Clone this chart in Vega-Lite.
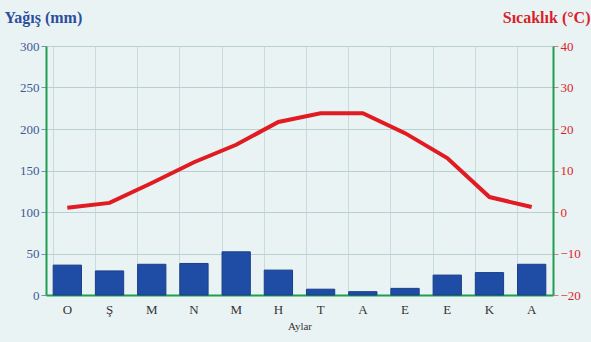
{
  "$schema": "https://vega.github.io/schema/vega-lite/v6.json",
  "width": 507,
  "height": 249,
  "autosize": {"type": "none"},
  "padding": {"left": 46, "top": 46, "right": 38, "bottom": 47},
  "background": "#eaf3f3",
  "config": {
    "font": "Liberation Serif",
    "view": {"stroke": null}
  },
  "data": {
    "values": [
      {"ay": "Ocak", "yagis": 36, "sicaklik": 1.0},
      {"ay": "Şubat", "yagis": 29, "sicaklik": 2.2},
      {"ay": "Mart", "yagis": 37, "sicaklik": 7.0},
      {"ay": "Nisan", "yagis": 38, "sicaklik": 12.0},
      {"ay": "Mayıs", "yagis": 52, "sicaklik": 16.2},
      {"ay": "Haziran", "yagis": 30, "sicaklik": 21.7},
      {"ay": "Temmuz", "yagis": 7, "sicaklik": 23.8},
      {"ay": "Ağustos", "yagis": 4, "sicaklik": 23.8},
      {"ay": "Eylül", "yagis": 8, "sicaklik": 19.0},
      {"ay": "Ekim", "yagis": 24, "sicaklik": 13.0},
      {"ay": "Kasım", "yagis": 27, "sicaklik": 3.6},
      {"ay": "Aralık", "yagis": 37, "sicaklik": 1.2}
    ]
  },
  "encoding": {
    "x": {
      "field": "ay",
      "type": "ordinal",
      "sort": null,
      "scale": {"paddingInner": 0.33, "paddingOuter": 0.17},
      "axis": {
        "title": "Aylar",
        "titleFont": "Liberation Serif",
        "titleFontWeight": "normal",
        "titleFontSize": 11,
        "titleColor": "#333333",
        "titlePadding": 4,
        "labelExpr": "substring(datum.value, 0, 1)",
        "labelAngle": 0,
        "labelFontSize": 13,
        "labelColor": "#333333",
        "labelPadding": 8,
        "ticks": false,
        "domain": true,
        "domainColor": "#1e9e50",
        "domainWidth": 2,
        "grid": true,
        "gridColor": "#c9dcdc",
        "bandPosition": 0
      }
    }
  },
  "layer": [
    {
      "mark": {"type": "bar", "color": "#1f4da6", "stroke": "#1a3f8a", "strokeWidth": 1},
      "encoding": {
        "y": {
          "field": "yagis",
          "type": "quantitative",
          "scale": {"domain": [0, 300], "nice": false},
          "axis": {
            "orient": "left",
            "values": [0, 50, 100, 150, 200, 250, 300],
            "title": "Yağış (mm)",
            "titleAngle": 0,
            "titleAlign": "left",
            "titleBaseline": "middle",
            "titleX": -42,
            "titleY": -29,
            "titleFontSize": 16,
            "titleFontWeight": "bold",
            "titleColor": "#2b4f9e",
            "labelColor": "#3d5a96",
            "labelFontSize": 13,
            "labelPadding": 2,
            "tickColor": "#7a8fb8",
            "tickSize": 5,
            "domainColor": "#1e9e50",
            "domainWidth": 2,
            "grid": true,
            "gridColor": "#b9cfd0"
          }
        }
      }
    },
    {
      "mark": {"type": "line", "color": "#e11b22", "strokeWidth": 4},
      "encoding": {
        "y": {
          "field": "sicaklik",
          "type": "quantitative",
          "scale": {"domain": [-20, 40], "nice": false},
          "axis": {
            "orient": "right",
            "values": [-20, -10, 0, 10, 20, 30, 40],
            "title": "Sıcaklık (°C)",
            "titleAngle": 0,
            "titleAlign": "right",
            "titleBaseline": "middle",
            "titleX": 37,
            "titleY": -29,
            "titleFontSize": 16,
            "titleFontWeight": "bold",
            "titleColor": "#d81f2c",
            "labelColor": "#d81f2c",
            "labelFontSize": 13,
            "labelPadding": 2,
            "tickColor": "#e07a80",
            "tickSize": 5,
            "domainColor": "#1e9e50",
            "domainWidth": 2,
            "grid": false
          }
        }
      }
    }
  ],
  "resolve": {"scale": {"y": "independent"}}
}
